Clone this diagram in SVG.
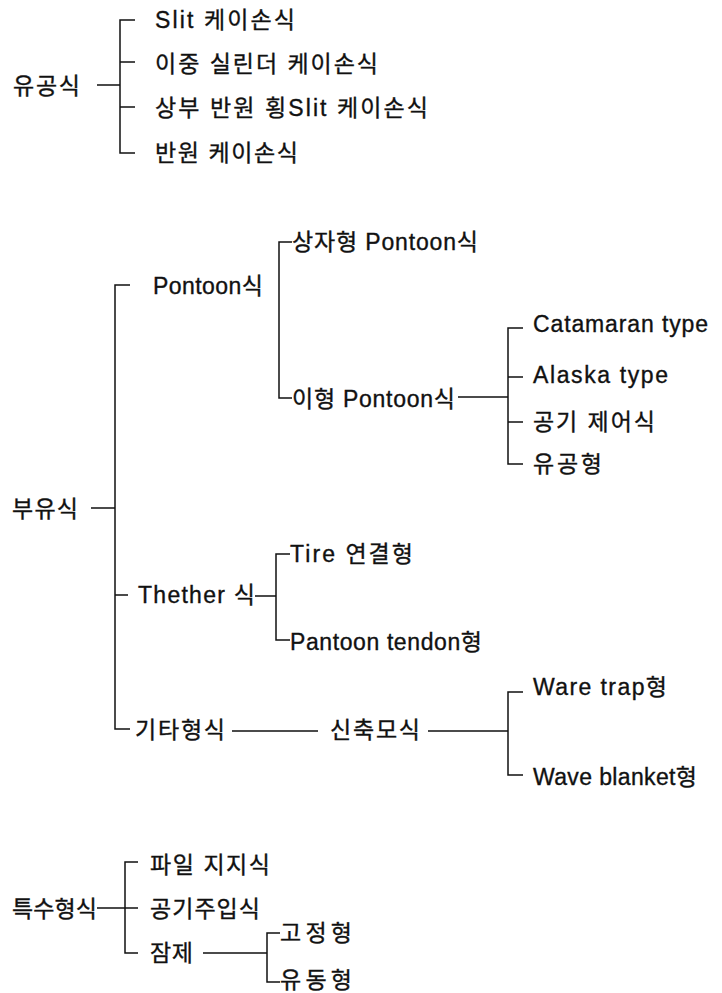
<svg xmlns="http://www.w3.org/2000/svg" width="722" height="993" viewBox="0 0 722 993">
<style>
  .t { font-family: "Liberation Sans", "Noto Sans CJK KR", sans-serif; font-size: 23px; fill: #111; stroke: #111; stroke-width: 0.35; }
  .c { fill: none; stroke: #111; stroke-width: 1.5; }
</style>
<rect width="722" height="993" fill="#fff"/>
<g id="connectors" class="c">
  <!-- 유공식 -->
  <path d="M97 85H120M135 20H120V153H135M120 62H135M120 107H135"/>
  <!-- 부유식 -->
  <path d="M91 508H115M130 285H115V729H130M115 595H128"/>
  <path d="M292 242H279V398H292"/>
  <path d="M458 397H508M523 328H508V464H523M508 377H523M508 422H523"/>
  <path d="M255 596H276M290 554H276V640H290"/>
  <path d="M232 731H318M428 731H508M523 692H508V775H523"/>
  <!-- 특수형식 -->
  <path d="M97 908H138M138 862H125V953H138"/>
  <path d="M203 953H267M280 933H267V982H280"/>
</g>
<g id="n-yugong"><text class="t" x="13" y="94" textLength="67">유공식</text></g>
<g id="n-slit"><text class="t" x="155" y="28" textLength="140">Slit 케이손식</text></g>
<g id="n-ijung"><text class="t" x="155" y="72" textLength="223">이중 실린더 케이손식</text></g>
<g id="n-sangbu"><text class="t" x="155" y="116" textLength="273">상부 반원 횡Slit 케이손식</text></g>
<g id="n-banwon"><text class="t" x="155" y="161" textLength="143">반원 케이손식</text></g>
<g id="n-buyu"><text class="t" x="12" y="517" textLength="66">부유식</text></g>
<g id="n-pontoon"><text class="t" x="153" y="294" textLength="110">Pontoon식</text></g>
<g id="n-box"><text class="t" x="292" y="250" textLength="186">상자형 Pontoon식</text></g>
<g id="n-ihyeong"><text class="t" x="292" y="407" textLength="163">이형 Pontoon식</text></g>
<g id="n-catamaran"><text class="t" x="533" y="332" textLength="175">Catamaran type</text></g>
<g id="n-alaska"><text class="t" x="533" y="383" textLength="135">Alaska type</text></g>
<g id="n-air"><text class="t" x="533" y="430" textLength="122">공기 제어식</text></g>
<g id="n-perf"><text class="t" x="533" y="472" textLength="69">유공형</text></g>
<g id="n-thether"><text class="t" x="138" y="603" textLength="117">Thether 식</text></g>
<g id="n-tire"><text class="t" x="290" y="562" textLength="123">Tire 연결형</text></g>
<g id="n-tendon"><text class="t" x="290" y="650" textLength="192">Pantoon tendon형</text></g>
<g id="n-other"><text class="t" x="135" y="738" textLength="90">기타형식</text></g>
<g id="n-flex"><text class="t" x="330" y="738" textLength="90">신축모식</text></g>
<g id="n-trap"><text class="t" x="533" y="695" textLength="134">Ware trap형</text></g>
<g id="n-blanket"><text class="t" x="533" y="785" textLength="164">Wave blanket형</text></g>
<g id="n-special"><text class="t" x="12" y="917" textLength="85">특수형식</text></g>
<g id="n-pile"><text class="t" x="150" y="873" textLength="120">파일 지지식</text></g>
<g id="n-airinj"><text class="t" x="150" y="917" textLength="110">공기주입식</text></g>
<g id="n-sub"><text class="t" x="150" y="961" textLength="43">잠제</text></g>
<g id="n-fixed"><text class="t" x="280" y="941" textLength="72">고정형</text></g>
<g id="n-float"><text class="t" x="280" y="988" textLength="72">유동형</text></g>
</svg>
